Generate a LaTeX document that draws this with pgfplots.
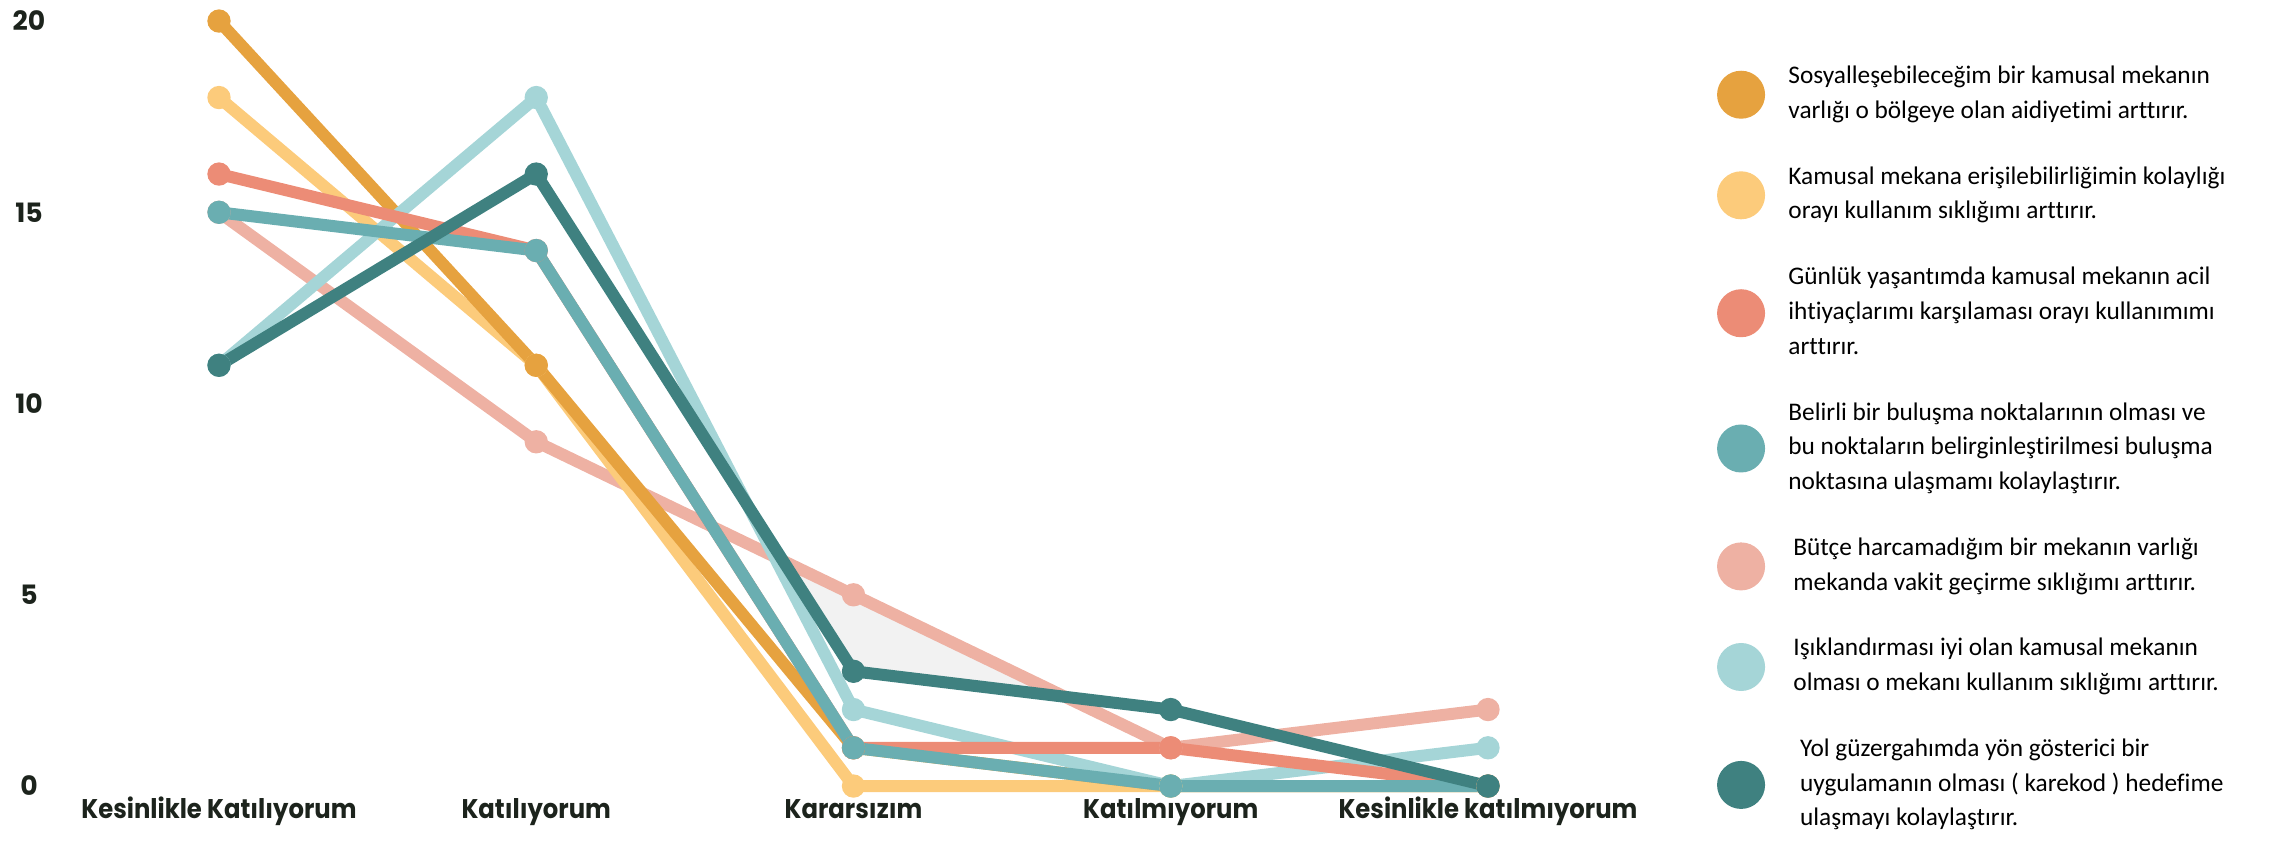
\documentclass[border=0pt]{standalone}
\usepackage{fontspec}
\setmainfont{Carlito}[Ligatures=CommonOff]
\newfontfamily\poppins{Poppins}
\newfontfamily\poppinsdar{Poppins}[FakeStretch=0.9]
\usepackage{pgfplots}
\pgfplotsset{compat=1.18}
\usepgfplotslibrary{fillbetween}

\definecolor{sosyal}{HTML}{E6A23F}
\definecolor{erisim}{HTML}{FCCB7B}
\definecolor{gunluk}{HTML}{EC8C76}
\definecolor{bulusma}{HTML}{6AAEB1}
\definecolor{butce}{HTML}{EEB1A3}
\definecolor{isik}{HTML}{A5D5D7}
\definecolor{yol}{HTML}{3F8180}
\definecolor{etiket}{HTML}{1C231C}

\pgfplotsset{seri/.style={color=#1, line width=3.6pt, line join=round, mark=*, mark size=3.3pt, mark options={line width=0.4pt}, forget plot}}
\newcommand{\ic}[1]{\hspace*{#1}}

\begin{document}
\begin{tikzpicture}
% page frame (picture proportions of the reference)
\path (0,0) rectangle (687.6pt,251.7pt);
\begin{axis}[
  at={(65.7pt,17.1pt)}, anchor=south west,
  scale only axis, width=380.7pt, height=229.5pt,
  xmin=1, xmax=5, ymin=0, ymax=20,
  clip=false, set layers,
  axis line style={draw=none},
  major tick length=0pt,
  xtick={1,2,3,4,5},
  xticklabels={Kesinlikle Katılıyorum, Katılıyorum, Kararsızım, Katılmıyorum, Kesinlikle katılmıyorum},
  ytick={0,5,10,15,20},
  /pgf/number format/assume math mode=true,
  yticklabel style={font=\poppins\bfseries\fontsize{8}{9}\selectfont, text=etiket, anchor=center, xshift=-57pt},
  xticklabel style={font=\poppinsdar\bfseries\fontsize{8.1}{9}\selectfont, text=etiket, anchor=base, yshift=-9.6pt},
  legend style={at={(axis description cs:1.180,0.942)}, anchor=north west,
    draw=none, fill=none, inner sep=0pt, row sep=13.0pt, column sep=7pt,
    font=\fontsize{7.6}{10.4}\selectfont,
    nodes={inner sep=0pt},
    cells={anchor=west, align=left}},
  legend image code/.code={\fill (7pt,0pt) circle (7pt);},
]

% Bütçe
\addplot[seri=butce, name path=butce] coordinates {(1,15) (2,9) (3,5) (4,1) (5,2)};
% Erişim
\addplot[seri=erisim] coordinates {(1,18) (2,11) (3,0) (4,0) (5,0)};
% Sosyalleşme
\addplot[seri=sosyal] coordinates {(1,20) (2,11) (3,1) (4,0) (5,0)};
% Işıklandırma
\addplot[seri=isik] coordinates {(1,11) (2,18) (3,2) (4,0) (5,1)};
% Günlük
\addplot[seri=gunluk] coordinates {(1,16) (2,14) (3,1) (4,1) (5,0)};
% Buluşma noktaları
\addplot[seri=bulusma] coordinates {(1,15) (2,14) (3,1) (4,0) (5,0)};
% Yol
\addplot[seri=yol, name path=yol] coordinates {(1,11) (2,16) (3,3) (4,2) (5,0)};

\addplot[fill=black!5, draw=none, on layer=axis background, forget plot]
  fill between[of=butce and yol, soft clip={domain=2.778:3.667}];

\addlegendimage{color=sosyal}
\addlegendentry{Sosyalleşebileceğim bir kamusal mekanın\\varlığı o bölgeye olan aidiyetimi arttırır.}
\addlegendimage{color=erisim}
\addlegendentry{Kamusal mekana erişilebilirliğimin kolaylığı\\orayı kullanım sıklığımı arttırır.}
\addlegendimage{color=gunluk}
\addlegendentry{Günlük yaşantımda kamusal mekanın acil\\ihtiyaçlarımı karşılaması orayı kullanımımı\\arttırır.}
\addlegendimage{color=bulusma}
\addlegendentry{Belirli bir buluşma noktalarının olması ve\\bu noktaların belirginleştirilmesi buluşma\\noktasına ulaşmamı kolaylaştırır.}
\addlegendimage{color=butce}
\addlegendentry{\ic{1.5pt}Bütçe harcamadığım bir mekanın varlığı\\\ic{1.5pt}mekanda vakit geçirme sıklığımı arttırır.}
\addlegendimage{color=isik}
\addlegendentry{\ic{1.5pt}Işıklandırması iyi olan kamusal mekanın\\\ic{1.5pt}olması o mekanı kullanım sıklığımı arttırır.}
\addlegendimage{color=yol}
\addlegendentry{\ic{3.5pt}Yol güzergahımda yön gösterici bir\\\ic{3.5pt}uygulamanın olması ( karekod ) hedefime\\\ic{3.5pt}ulaşmayı kolaylaştırır.}
\end{axis}
\end{tikzpicture}
\end{document}
